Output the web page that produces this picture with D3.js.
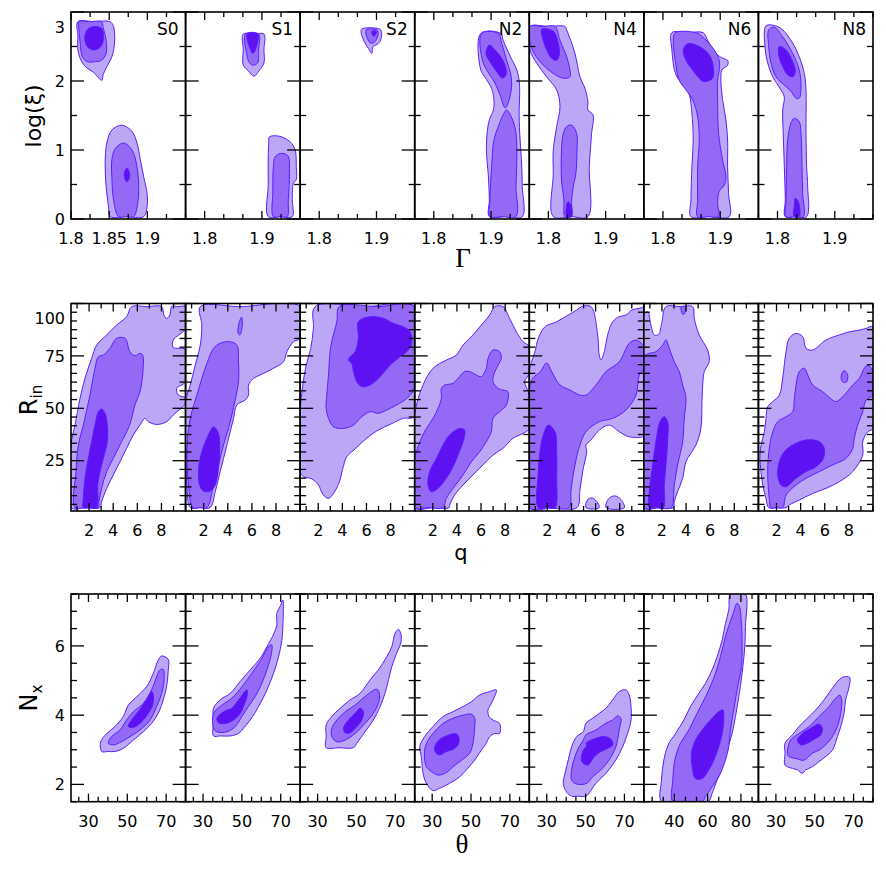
<!DOCTYPE html>
<html>
<head>
<meta charset="utf-8">
<script src="https://cdn.jsdelivr.net/npm/d3@7"></script>
<style>
  body { margin: 0; background: #fff; }
  text { font-family: "DejaVu Sans", sans-serif; fill: #000; }
</style>
</head>
<body>
<svg id="chart" width="886" height="886"></svg>
<script>
// ---- axis setup ----
const panelNames = ["S0", "S1", "S2", "N2", "N4", "N6", "N8"];

const gammaDomS0 = [1.8, 1.95];
const gammaDom = [1.7667, 1.9667];
const gammaLabelsS0 = [1.8, 1.85, 1.9];
const gammaLabels = [1.8, 1.9];
const xiDom = [0, 3];
const xiLabels = [0, 1, 2, 3];

const qDom = [0.5, 10];
const qLabels = [2, 4, 6, 8];
const rinDom = [1, 100];
const rinLabels = [25, 50, 75, 100];

const thetaDom = [21, 80];
const thetaDomN6 = [21.7, 90.5];
const thetaLabels = [30, 50, 70];
const thetaLabelsN6 = [40, 60, 80];
const nxDom = [1.5, 7.5];
const nxLabels = [2, 4, 6];

// ---- contours: [level, [[x, y], ...]]  level 0 = outer, 1 = middle, 2 = inner ----
// log(xi) vs Gamma
const xiS0 = [
  [0, [[1.809,2.86],[1.83,2.86],[1.851,2.86],[1.8557,2.79],[1.857,2.55],[1.8535,2.35],[1.847,2.21],[1.842,2.09],[1.8404,2.01],[1.829,2.13],[1.8206,2.19],[1.814,2.28],[1.809,2.45],[1.809,2.65]]],
  [0, [[1.8667,1.36],[1.8798,1.27],[1.8864,1.10],[1.8908,0.86],[1.8952,0.61],[1.8996,0.37],[1.8996,0.18],[1.8952,0.034],[1.872,0.034],[1.8513,0.034],[1.8491,0.18],[1.846,0.47],[1.8447,0.81],[1.8469,1.10],[1.8535,1.29]]],
  [1, [[1.8097,2.86],[1.825,2.86],[1.840,2.86],[1.842,2.78],[1.846,2.59],[1.846,2.40],[1.840,2.30],[1.832,2.28],[1.8215,2.28],[1.815,2.35],[1.812,2.55],[1.8105,2.75]]],
  [1, [[1.8689,1.10],[1.8798,1.0],[1.8864,0.76],[1.8886,0.47],[1.8873,0.23],[1.882,0.034],[1.872,0.034],[1.8623,0.034],[1.8557,0.28],[1.8535,0.60],[1.8535,0.86],[1.8579,1.02]]],
  [2, [[1.831,2.79],[1.840,2.76],[1.8425,2.62],[1.839,2.50],[1.831,2.45],[1.822,2.49],[1.818,2.62],[1.822,2.75]]],
  [2, [[1.8732,0.74],[1.8762,0.68],[1.8765,0.60],[1.8732,0.54],[1.870,0.60],[1.8702,0.68]]]
];
const xiS1 = [
  [0, [[1.8674,2.68],[1.886,2.68],[1.9035,2.68],[1.9035,2.45],[1.9035,2.26],[1.895,2.15],[1.886,2.07],[1.876,2.15],[1.8674,2.23],[1.8674,2.45]]],
  [0, [[1.913,1.19],[1.930,1.20],[1.949,1.12],[1.958,1.0],[1.960,0.75],[1.960,0.57],[1.955,0.52],[1.953,0.28],[1.953,0.034],[1.932,0.034],[1.911,0.034],[1.911,0.5],[1.911,0.9],[1.912,1.12]]],
  [1, [[1.8715,2.68],[1.8942,2.68],[1.8942,2.45],[1.8924,2.26],[1.8831,2.23],[1.8773,2.28],[1.8732,2.40]]],
  [1, [[1.932,0.95],[1.945,0.92],[1.948,0.66],[1.946,0.28],[1.944,0.034],[1.932,0.034],[1.920,0.034],[1.919,0.40],[1.920,0.76],[1.923,0.90]]],
  [2, [[1.8744,2.68],[1.8924,2.68],[1.8905,2.50],[1.8843,2.40],[1.878,2.50]]]
];
const xiS2 = [
  [0, [[1.874,2.75],[1.906,2.75],[1.909,2.69],[1.906,2.57],[1.899,2.52],[1.894,2.50],[1.892,2.40],[1.886,2.47],[1.880,2.55],[1.874,2.67]]],
  [1, [[1.882,2.74],[1.901,2.74],[1.903,2.69],[1.899,2.59],[1.894,2.55],[1.889,2.55],[1.884,2.62]]],
  [2, [[1.892,2.72],[1.900,2.72],[1.898,2.67],[1.896,2.65],[1.893,2.67]]]
];
const xiN2 = [
  [0, [[1.882,2.69],[1.917,2.69],[1.921,2.59],[1.934,2.35],[1.945,2.16],[1.949,2.01],[1.950,1.82],[1.949,1.58],[1.950,1.24],[1.953,0.86],[1.9545,0.47],[1.9545,0.034],[1.925,0.034],[1.897,0.034],[1.897,0.28],[1.895,0.66],[1.892,0.95],[1.893,1.24],[1.897,1.44],[1.904,1.58],[1.905,1.73],[1.901,1.89],[1.889,2.06],[1.882,2.16]]],
  [1, [[1.8836,2.69],[1.9126,2.69],[1.9185,2.55],[1.9272,2.30],[1.934,2.11],[1.936,1.97],[1.933,1.77],[1.9272,1.63],[1.9243,1.61],[1.9155,1.80],[1.9068,1.97],[1.8925,2.16],[1.8848,2.30]]],
  [1, [[1.9272,1.58],[1.9377,1.435],[1.9435,1.24],[1.945,0.86],[1.9435,0.47],[1.9435,0.034],[1.92,0.034],[1.898,0.034],[1.898,0.28],[1.901,0.76],[1.905,1.145],[1.9126,1.34],[1.921,1.51]]],
  [2, [[1.897,2.52],[1.9068,2.45],[1.9185,2.33],[1.926,2.18],[1.926,2.09],[1.920,2.04],[1.9098,2.135],[1.898,2.28],[1.891,2.40]]]
];
const xiN4 = [
  [0, [[1.768,2.79],[1.800,2.79],[1.829,2.79],[1.832,2.74],[1.8464,2.40],[1.8552,2.06],[1.864,1.89],[1.869,1.70],[1.869,1.58],[1.878,1.51],[1.8755,1.24],[1.8715,0.76],[1.869,0.034],[1.84,0.034],[1.8086,0.034],[1.8086,0.66],[1.8086,1.0],[1.8145,1.34],[1.8203,1.63],[1.8145,1.87],[1.797,2.06],[1.7796,2.26],[1.768,2.45]]],
  [1, [[1.768,2.79],[1.790,2.79],[1.8116,2.79],[1.8203,2.59],[1.832,2.35],[1.8377,2.16],[1.8377,2.06],[1.826,2.04],[1.8086,2.11],[1.7911,2.23],[1.7766,2.38],[1.768,2.55]]],
  [1, [[1.8407,1.36],[1.8494,1.24],[1.850,1.0],[1.848,0.66],[1.8435,0.47],[1.8407,0.275],[1.839,0.034],[1.829,0.034],[1.8272,0.275],[1.823,0.565],[1.823,1.0],[1.826,1.24],[1.832,1.34]]],
  [2, [[1.7883,2.75],[1.8086,2.72],[1.8173,2.55],[1.819,2.38],[1.8145,2.30],[1.8058,2.33],[1.797,2.45],[1.79,2.62]]],
  [2, [[1.834,0.25],[1.8395,0.20],[1.8405,0.034],[1.832,0.034]]]
];
const xiN6 = [
  [0, [[1.8157,2.70],[1.843,2.70],[1.8703,2.70],[1.878,2.59],[1.8925,2.40],[1.9042,2.33],[1.9129,2.30],[1.9129,2.23],[1.903,2.16],[1.9012,2.01],[1.9042,1.73],[1.91,1.435],[1.9129,1.145],[1.9129,0.76],[1.9146,0.37],[1.9157,0.034],[1.88,0.034],[1.8489,0.034],[1.8489,0.28],[1.8506,0.76],[1.8529,1.145],[1.8506,1.53],[1.846,1.80],[1.8372,1.92],[1.8227,2.09],[1.8157,2.45]]],
  [1, [[1.8215,2.70],[1.8576,2.70],[1.8693,2.64],[1.8896,2.45],[1.8983,2.30],[1.8983,2.16],[1.8955,2.01],[1.8955,1.73],[1.8972,1.24],[1.9042,0.855],[1.91,0.61],[1.907,0.49],[1.8983,0.40],[1.8955,0.23],[1.8972,0.034],[1.88,0.034],[1.8606,0.034],[1.8606,0.28],[1.8606,0.76],[1.8634,1.145],[1.8606,1.48],[1.8519,1.73],[1.8402,1.87],[1.8285,2.01],[1.8215,2.30],[1.818,2.59]]],
  [2, [[1.8431,2.54],[1.8634,2.50],[1.8808,2.38],[1.8878,2.21],[1.8866,2.04],[1.8721,1.99],[1.8634,2.04],[1.8519,2.16],[1.8402,2.30],[1.8355,2.45]]]
];
const xiN8 = [
  [0, [[1.78,2.80],[1.7962,2.80],[1.8091,2.74],[1.8265,2.55],[1.838,2.35],[1.8468,2.11],[1.8497,1.87],[1.8497,1.24],[1.8509,0.76],[1.8527,0.47],[1.8509,0.034],[1.832,0.034],[1.8136,0.034],[1.8136,0.28],[1.8119,0.76],[1.81,1.24],[1.8091,1.58],[1.8119,1.77],[1.8061,1.87],[1.7917,2.06],[1.783,2.26],[1.7787,2.45]]],
  [1, [[1.7847,2.74],[1.7944,2.78],[1.8091,2.64],[1.8265,2.40],[1.838,2.16],[1.841,1.92],[1.838,1.75],[1.8323,1.75],[1.8236,1.85],[1.8119,1.94],[1.7974,2.06],[1.7887,2.26],[1.7847,2.50]]],
  [1, [[1.8294,1.46],[1.838,1.41],[1.841,1.24],[1.8428,0.76],[1.8439,0.37],[1.845,0.034],[1.83,0.034],[1.8149,0.034],[1.8149,0.28],[1.816,0.76],[1.8178,1.145],[1.8236,1.39]]],
  [2, [[1.8032,2.50],[1.8149,2.45],[1.8265,2.28],[1.8311,2.135],[1.8265,2.06],[1.8178,2.09],[1.8091,2.21],[1.802,2.38]]],
  [2, [[1.831,0.30],[1.8365,0.25],[1.838,0.034],[1.829,0.034],[1.8295,0.20]]]
];

// R_in vs q
const rinS0 = [
  [0, [[0.5,2.6],[0.5,32.5],[0.83,42],[1.25,54.7],[1.66,64.3],[2.21,73.8],[2.63,80.2],[3.46,85],[4.28,89.7],[5.11,93.7],[5.53,98.5],[6.8,98.5],[8.01,98.5],[8.21,94.5],[8.43,92.9],[8.70,94.5],[8.84,98.5],[9.4,98.5],[10,98.5],[10,88.1],[8.98,82.6],[8.98,79],[10,78],[10,62.7],[9.26,59.5],[9.4,56.3],[10,55],[10,52.4],[8.98,46.8],[8.43,43.6],[7.6,42.3],[6.91,43.6],[6.63,45.2],[6.22,42],[5.67,37.3],[5.11,30.9],[4.56,24.5],[4.01,18.2],[3.46,11.8],[3.04,5.5],[2.9,2.6],[1.7,2.6]]],
  [1, [[0.83,2.6],[0.91,19.8],[1.11,32.5],[1.52,42],[2.07,56.3],[2.49,69.1],[2.77,74.6],[3.18,75.4],[3.73,78.6],[4.28,83.4],[4.98,83.4],[5.39,77],[5.8,75.1],[6.22,76.2],[6.44,75.4],[6.44,65.9],[6.22,57.9],[5.8,51.6],[5.53,45.2],[5.25,40.4],[4.7,34.1],[4.01,26.1],[3.46,19.8],[3.04,11.8],[2.82,5.5],[2.76,2.6],[1.7,2.6]]],
  [2, [[3.04,49.7],[3.32,47.6],[3.51,42],[3.51,34.1],[3.18,26.1],[2.9,19.8],[2.72,13.4],[2.62,2.6],[2.1,2.6],[1.52,2.6],[1.52,7],[1.66,16.6],[1.94,26.1],[2.21,34.1],[2.49,42],[2.77,48.4]]]
];
const rinS1 = [
  [0, [[0.9,2.6],[0.61,13.4],[0.5,29.3],[0.5,53.2],[0.89,61.1],[1.3,70.6],[1.72,80.2],[1.85,89.7],[1.72,98.5],[5,98.5],[10,98.5],[10,83.4],[9.45,81.8],[8.9,77],[8.62,72.2],[7.79,69.1],[6.69,65.9],[6.13,64.3],[5.72,61.1],[5.72,56.3],[5.44,53.9],[4.75,51.6],[4.48,45.2],[4.2,38.8],[3.93,32.5],[3.65,26.1],[3.37,19.8],[2.96,10.2],[2.54,2.6],[1.7,2.6]]],
  [1, [[1.1,2.6],[0.75,13.4],[0.61,29.3],[0.75,40.4],[1.02,48.4],[1.44,56.3],[1.85,64.3],[2.27,71.4],[2.82,78.6],[3.37,81],[4.06,81.8],[4.75,80.2],[4.89,72.2],[4.89,62.7],[4.61,53.9],[4.34,46.8],[4.06,40.4],[3.65,32.5],[3.23,23],[2.82,13.4],[2.27,2.6],[1.7,2.6]]],
  [1, [[4.85,86],[4.95,91],[5.15,93.5],[5.2,89],[5.0,85]]],
  [2, [[2.82,41.2],[3.23,38],[3.32,29.3],[3.23,21.4],[2.96,13.4],[2.54,10.5],[1.99,10.5],[1.66,13.4],[1.58,21.4],[1.85,29.3],[2.27,35.7],[2.6,39.6]]]
];
const rinS2 = [
  [0, [[1.74,98.5],[6,98.5],[9.95,98.5],[9.95,46],[9.06,45.2],[7.96,42.3],[6.85,39.2],[5.75,34.4],[5.06,30.6],[4.37,26.9],[4.04,21.4],[3.76,15],[3.32,9.9],[2.85,7],[2.38,9],[2.02,13.4],[1.47,16.3],[0.78,17.4],[0.5,19.8],[0.5,48.4],[0.72,61.1],[1.0,70.6],[1.38,78.6],[1.6,88.1]]],
  [1, [[3.76,98.5],[7,98.5],[9.95,98.5],[9.95,59.5],[9.34,54.7],[8.51,51.6],[7.68,49.2],[6.99,47.6],[6.3,48.4],[5.47,45.2],[4.92,42],[4.09,40.4],[3.26,41.2],[2.85,45.2],[2.65,50],[2.71,56.3],[2.85,65.9],[2.98,77],[3.12,81.8],[3.54,91.3]]],
  [2, [[5.33,91.3],[6.3,93.7],[7.41,92.9],[8.23,90.5],[9.06,88.9],[9.62,86.5],[9.75,81],[9.34,77],[8.79,74.6],[7.96,70.6],[7.13,65.1],[6.3,61.1],[5.61,60.3],[5.2,62.7],[4.92,67.5],[4.78,71.4],[4.51,73],[4.64,74.6],[5.06,77],[5.33,83.4]]]
];
const rinN2 = [
  [0, [[0.5,2.6],[0.5,46.8],[1.19,61.1],[2.02,69.1],[3.12,73],[3.95,75.4],[4.51,80.2],[5.33,85],[6.02,89.7],[6.72,94.5],[7.13,98.5],[7.82,98.5],[8.37,92.9],[8.93,86.5],[9.48,81.8],[10,79.4],[10,66.7],[9.62,62.7],[10,56.3],[10,40.4],[9.48,38],[8.65,35.7],[7.82,30.9],[6.99,27.7],[6.16,23],[5.33,18.2],[4.51,13.4],[3.81,8.6],[3.4,3.9],[3.35,2.6],[2,2.6]]],
  [1, [[0.5,2.6],[1.6,2.6],[2.85,2.6],[3.12,7],[3.68,11.8],[4.51,18.2],[5.2,24.5],[5.89,29.3],[6.44,34.1],[6.85,38.8],[6.99,45.2],[7.54,48.4],[8.1,51.6],[8.23,57.9],[7.82,58.7],[7.41,59.5],[6.99,62.7],[7.05,65.9],[7.41,70.6],[7.68,73.8],[7.54,77],[6.99,77.8],[6.58,73.8],[6.44,69.1],[6.02,65.1],[5.61,65.9],[5.06,67.5],[4.64,67.5],[4.09,64.3],[3.68,61.9],[2.99,61.1],[2.71,59.5],[2.71,54.7],[2.43,50],[2.02,45.2],[1.47,40.4],[1.05,35.7],[0.64,29.3],[0.5,26.1]]],
  [2, [[4.23,40.4],[4.64,39.6],[4.51,34.1],[4.09,27.7],[3.68,22.1],[3.12,16.6],[2.43,11.8],[1.88,10.2],[1.6,13.4],[1.74,19.8],[2.3,26.1],[2.85,32.5],[3.4,37.3]]]
];
const rinN4 = [
  [0, [[0.5,2.6],[0.5,67.5],[0.97,77],[1.25,83.4],[1.80,88.9],[2.77,91.3],[3.73,94.5],[4.43,96.9],[4.84,98.5],[5.62,98.5],[6.17,85],[6.3,75.4],[6.45,73],[6.72,77],[7.0,85],[7.42,91.3],[7.96,93.7],[8.52,94.5],[9.02,96.9],[9.76,97.9],[10,98.5],[10,37.3],[9.9,36.4],[8.79,36.4],[7.96,38.8],[7.13,42],[6.3,39.6],[5.62,34.9],[5.2,32.5],[5.26,29.3],[4.95,20.6],[4.7,11],[4.46,2.6],[2.5,2.6]]],
  [0, [[5.2,2.6],[5.35,6.5],[5.7,7.2],[6.1,5.5],[6.3,2.6]]],
  [0, [[6.86,2.6],[7.1,7],[7.6,8.2],[8.1,6.5],[8.38,2.6]]],
  [1, [[0.5,2.6],[0.5,58.7],[0.81,64.5],[1.39,67.3],[1.94,71.6],[2.38,67.3],[3.05,61.1],[3.88,58.7],[4.7,56.3],[5.2,56.3],[6.03,61.1],[6.86,67.5],[7.96,72.2],[8.79,81],[9.35,82.6],[9.76,81.2],[10,79.4],[10,69.1],[9.62,65.9],[9.35,56.3],[8.52,49.2],[7.42,45.2],[6.3,43.6],[5.2,38.8],[4.7,32.5],[4.29,23],[3.96,11],[3.79,2.6],[2,2.6]]],
  [2, [[2.08,42],[2.63,38.8],[2.77,29.3],[2.77,16.6],[2.63,2.6],[1.9,2.6],[1.25,2.6],[1.25,19.8],[1.39,29.3],[1.66,37.3]]]
];
const rinN6 = [
  [0, [[0.5,2.6],[0.5,94.5],[0.82,96.1],[1.09,89.7],[1.36,85],[1.73,85.3],[2.0,91.3],[2.33,98.5],[3.5,98.5],[4.55,98.5],[4.68,92.9],[5.09,85],[5.79,77.8],[5.92,72.2],[5.51,67.5],[5.38,61.1],[5.32,53.2],[5.23,40.4],[4.82,32.5],[3.99,24.5],[3.72,16.6],[3.3,10.2],[3.02,5.5],[2.94,2.6],[1.7,2.6]]],
  [1, [[3.6,98.5],[3.93,98.5],[3.85,95],[3.7,95]]],
  [1, [[0.5,2.6],[0.5,74.6],[0.95,76.2],[1.5,77],[2.06,80.2],[2.33,82.6],[2.61,78.6],[3.02,72.2],[3.44,67.5],[3.72,61.1],[3.99,55],[3.85,45.2],[3.72,34.1],[3.3,22.9],[3.02,13.4],[2.75,2.6],[1.6,2.6]]],
  [2, [[2.19,46],[2.47,43.6],[2.47,34.1],[2.33,23],[2.19,13.4],[2.11,2.6],[1.5,2.6],[0.95,2.6],[0.95,10.2],[1.23,23],[1.5,34.1],[1.84,43.6]]]
];
const rinN8 = [
  [0, [[1.35,2.6],[1.13,7],[0.86,13.4],[0.63,26.1],[0.72,32.5],[0.99,38.8],[1.13,45.2],[1.27,50.8],[1.69,53.2],[2.23,56.3],[2.51,64.3],[2.79,77],[3.06,83.4],[3.62,85.7],[4.17,84.2],[4.45,78.6],[5.0,77.8],[6.11,82.6],[7.21,85],[8.04,86.5],[8.87,87.3],[9.43,88.1],[10,88.9],[10,40.4],[9.56,38.8],[9.15,34.1],[9.15,27.7],[8.32,19.8],[7.21,15],[6.11,11.8],[5.0,9.4],[3.89,6.2],[3.06,3.9],[2.79,2.6],[2,2.6]]],
  [1, [[1.54,2.6],[1.4,7],[1.27,19.8],[1.4,30.9],[1.69,38.8],[2.1,43.6],[2.79,46],[3.34,48.4],[3.48,54.7],[3.62,61.1],[3.89,67.5],[4.31,69.1],[4.59,65.9],[5.0,61.1],[5.83,57.9],[6.66,53.9],[6.93,53.2],[7.49,55.5],[8.32,61.1],[8.87,64.3],[9.28,69.1],[9.56,70.6],[10,67.5],[10,56.3],[9.43,54],[9.15,48.4],[8.73,42],[8.45,35.7],[8.32,30.9],[7.76,26.1],[6.66,23],[5.55,19.8],[4.45,16.6],[3.62,13.4],[2.79,8.6],[2.51,2.6],[2,2.6]]],
  [1, [[7.35,65],[7.6,68],[7.9,66],[7.8,62.5],[7.5,62.5]]],
  [2, [[4.45,34.9],[5.55,34.1],[5.96,30.9],[5.88,26.1],[5.28,22.1],[4.45,19.8],[3.62,16.6],[2.79,12.6],[2.37,13.4],[2.1,18.2],[2.23,24.5],[2.65,29.3],[3.34,32.5]]]
];

// N_x vs theta
const nxS0 = [
  [0, [[36.8,2.95],[36.3,3.23],[39.4,3.47],[43.6,3.67],[47.9,3.96],[50.5,4.29],[54.8,4.53],[59.9,4.82],[63.4,5.21],[65.9,5.59],[67.7,5.71],[71.1,5.61],[71.1,5.31],[70.2,4.82],[68.5,4.44],[65.9,4.05],[62.5,3.76],[58.2,3.52],[53.1,3.28],[47.9,3.04],[43.6,2.95],[40,2.95]]],
  [1, [[40.2,3.19],[41.9,3.38],[46.2,3.57],[49.6,3.86],[53.1,4.1],[58.2,4.34],[62.5,4.73],[65.1,5.11],[66.8,5.31],[68.5,5.32],[68.9,5.02],[67.7,4.63],[65.1,4.25],[61.7,3.86],[56.5,3.57],[51.4,3.38],[46.2,3.21],[42.8,3.14]]],
  [2, [[50.5,3.67],[52.2,3.86],[55.6,4.1],[59.9,4.44],[62.5,4.68],[63.4,4.58],[63.0,4.29],[60.8,4.05],[56.5,3.76],[53.1,3.65]]]
];
const nxS1 = [
  [0, [[35.4,4.2],[38.8,4.44],[44.0,4.63],[49.1,4.97],[54.3,5.31],[59.4,5.64],[62.9,5.98],[66.6,6.37],[68.0,6.61],[68.0,6.94],[69.7,7.14],[71.1,7.33],[71.1,6.56],[70.6,6.17],[68.9,5.69],[66.3,5.21],[62.9,4.73],[58.6,4.25],[54.3,3.86],[50.8,3.62],[48.3,3.47],[44.0,3.4],[39,3.4],[35.4,3.4],[35.4,3.8]]],
  [1, [[35.4,4.05],[39.7,4.29],[44.8,4.49],[50.0,4.82],[55.1,5.21],[60.3,5.64],[63.7,5.98],[65.4,6.03],[64.9,5.69],[62.9,5.31],[60.3,4.92],[56.8,4.53],[53.4,4.25],[50.0,3.96],[46.6,3.67],[42.3,3.52],[37.1,3.52],[35.4,3.62]]],
  [2, [[37.1,3.91],[40.6,4.1],[44.8,4.2],[48.3,4.44],[52.6,4.73],[52.6,4.53],[50.8,4.25],[49.1,4.05],[45.7,3.86],[41.4,3.76],[38.0,3.78]]]
];
const nxS2 = [
  [0, [[34.4,3.72],[37.3,3.96],[41.6,4.2],[46.7,4.44],[51.9,4.63],[57.0,5.02],[61.3,5.31],[65.6,5.69],[68.2,5.98],[69.9,6.37],[71.6,6.48],[73.0,6.32],[72.8,6.08],[70.7,5.79],[68.2,5.4],[66.5,5.02],[64.7,4.63],[62.2,4.25],[58.7,3.86],[54.4,3.52],[50.2,3.19],[48.4,3.06],[41,3.06],[34.4,3.06],[34.4,3.4]]],
  [1, [[37.3,3.62],[39.9,3.86],[44.2,4.1],[49.3,4.29],[55.3,4.58],[60.5,4.75],[61.8,4.63],[61.3,4.34],[58.7,4.05],[54.4,3.76],[49.3,3.47],[44.2,3.28],[39.9,3.23],[37.3,3.38]]],
  [2, [[43.3,3.62],[45.9,3.86],[49.3,4.05],[51.9,4.2],[53.6,4.1],[52.7,3.86],[50.2,3.67],[46.7,3.49],[44.2,3.49]]]
];
const nxN2 = [
  [0, [[23.6,3.09],[24.4,2.8],[25.3,2.32],[27.0,2.03],[30.4,1.82],[33.9,1.89],[39.0,2.03],[44.2,2.22],[47.6,2.42],[51.9,2.7],[55.3,2.99],[57.9,3.19],[59.6,3.38],[62.2,3.47],[64.7,3.47],[64.7,3.76],[61.3,3.86],[59.3,3.96],[58.7,4.15],[60.5,4.34],[63.0,4.73],[59.6,4.68],[54.4,4.58],[50.2,4.39],[45.9,4.25],[40.7,4.1],[35.6,3.96],[30.4,3.67],[26.1,3.38]]],
  [1, [[26.1,2.99],[27.0,2.51],[29.6,2.37],[33.0,2.27],[37.3,2.34],[40.7,2.51],[44.2,2.66],[49.3,2.9],[51.0,3.19],[51.9,3.67],[51.9,3.91],[50.2,4.03],[45.9,4.0],[40.7,3.91],[35.6,3.76],[30.4,3.47],[27.9,3.28]]],
  [2, [[31.3,3.09],[33.9,3.3],[37.3,3.4],[42.4,3.46],[43.8,3.33],[43.3,3.14],[40.7,3.01],[37.3,2.95],[33.9,2.85],[31.8,2.92]]]
];
const nxN4 = [
  [0, [[38.5,2.03],[40.3,1.77],[42.8,1.66],[46.5,1.66],[50.2,1.66],[55.3,2.03],[60.5,2.32],[65.6,2.71],[69.1,3.09],[71.7,3.48],[73.4,3.86],[73.4,4.25],[72.5,4.58],[70.8,4.73],[67.3,4.68],[63.9,4.44],[60.5,4.2],[57.0,4.05],[53.6,3.91],[50.2,3.77],[48.8,3.52],[45.4,3.38],[42.8,3.09],[41.1,2.71],[39.4,2.32]]],
  [1, [[42.8,2.42],[42.8,2.13],[45.4,2.01],[50.6,2.03],[53.6,2.22],[57.9,2.42],[62.2,2.71],[65.6,3.09],[67.3,3.57],[68.2,3.91],[66.5,3.98],[63.9,3.86],[60.5,3.77],[55.3,3.57],[50.2,3.43],[48.8,3.28],[46.2,3.04],[44.0,2.71]]],
  [2, [[50.2,3.19],[55.3,3.33],[59.6,3.38],[63.1,3.3],[63.9,3.14],[61.4,3.04],[57.9,2.95],[54.5,2.8],[51.1,2.56],[48.0,2.66],[48.5,2.95],[50.6,3.14]]]
];
const nxN6 = [
  [0, [[32.3,1.5],[32.3,2.13],[33.7,2.7],[36.3,3.14],[40.7,3.47],[45.7,3.86],[49.7,4.25],[54.7,4.63],[58.7,4.92],[62.7,5.31],[65.7,5.69],[68.7,6.17],[70.7,6.65],[72.7,7.04],[73.7,7.5],[78,7.5],[82.7,7.5],[82.7,6.56],[82.3,5.98],[80.7,5.21],[78.7,4.53],[76.7,3.96],[74.7,3.47],[71.7,2.99],[68.7,2.51],[65.7,2.13],[62.7,1.74],[60.3,1.5],[46,1.5]]],
  [1, [[39.1,1.5],[39.1,2.13],[40.3,2.7],[43.7,3.19],[48.7,3.57],[52.7,3.96],[56.7,4.34],[60.7,4.73],[64.7,5.21],[67.7,5.69],[70.7,6.27],[74.7,6.85],[77.7,7.23],[79.1,7.14],[80.3,6.65],[80.7,5.98],[80.3,5.4],[77.7,4.73],[75.7,4.15],[73.7,3.57],[72.7,3.09],[70.7,2.7],[66.7,2.22],[62.7,1.93],[58.7,1.64],[56.7,1.5],[48,1.5]]],
  [2, [[50.7,2.51],[50.3,2.9],[52.7,3.28],[56.7,3.57],[61.7,3.86],[66.7,4.1],[69.1,4.15],[69.7,3.96],[69.1,3.57],[66.7,3.09],[63.7,2.7],[60.7,2.42],[56.7,2.17],[52.7,2.17]]]
];
const nxN8 = [
  [0, [[34.7,3.19],[38.5,3.43],[41.9,3.67],[46.2,3.91],[50.5,4.15],[54.8,4.44],[59.1,4.78],[62.5,5.02],[65.1,5.11],[68.0,5.09],[67.7,4.82],[65.9,4.44],[65.1,4.05],[63.4,3.67],[61.7,3.38],[59.1,2.99],[55.6,2.8],[52.2,2.66],[48.8,2.51],[45.4,2.42],[43.6,2.32],[41.1,2.42],[38.5,2.46],[34.7,2.56],[34.7,2.9]]],
  [1, [[35.9,2.9],[37.6,3.28],[41.9,3.47],[47.1,3.67],[52.2,3.96],[57.4,4.25],[60.8,4.49],[62.9,4.58],[63.9,4.44],[63.4,4.05],[61.7,3.67],[59.1,3.38],[55.6,3.14],[52.2,2.99],[48.8,2.9],[44.5,2.7],[40.2,2.75],[36.8,2.8]]],
  [2, [[41.1,3.28],[43.6,3.47],[47.9,3.62],[52.2,3.74],[53.9,3.62],[53.1,3.43],[49.6,3.3],[46.2,3.19],[42.8,3.14]]]
];

// ---- layout ----
const svg = d3.select("#chart");
const lefts = d3.range(8).map(i => 71 + i * 114.57);
const fills = ["#bca7f7", "#9469f6", "#5e12f2"];
const lineCol = "#5b1dff";

const rows = [
  { key: "xi", top: 12, bottom: 219, yDom: xiDom, yLabels: xiLabels, yAnchor: 0, yStep: 0.5,
    xDoms: [gammaDomS0, gammaDom, gammaDom, gammaDom, gammaDom, gammaDom, gammaDom],
    xLabels: [gammaLabelsS0, gammaLabels, gammaLabels, gammaLabels, gammaLabels, gammaLabels, gammaLabels],
    xSteps: [[1.8, 0.025], [1.8, 1/30], [1.8, 1/30], [1.8, 1/30], [1.8, 1/30], [1.8, 1/30], [1.8, 1/30]],
    sets: [xiS0, xiS1, xiS2, xiN2, xiN4, xiN6, xiN8] },
  { key: "rin", top: 303.5, bottom: 511, yDom: rinDom, yLabels: rinLabels, yAnchor: 25, yStep: 25/6,
    xDoms: d3.range(7).map(() => qDom),
    xLabels: d3.range(7).map(() => qLabels),
    xSteps: d3.range(7).map(() => [2, 1]),
    sets: [rinS0, rinS1, rinS2, rinN2, rinN4, rinN6, rinN8] },
  { key: "nx", top: 594, bottom: 801.7, yDom: nxDom, yLabels: nxLabels, yAnchor: 2, yStep: 0.5,
    xDoms: [thetaDom, thetaDom, thetaDom, thetaDom, thetaDom, thetaDomN6, thetaDom],
    xLabels: [thetaLabels, thetaLabels, thetaLabels, thetaLabels, thetaLabels, thetaLabelsN6, thetaLabels],
    xSteps: [[30, 5], [30, 5], [30, 5], [30, 5], [30, 5], [40, 20/3], [30, 5]],
    sets: [nxS0, nxS1, nxS2, nxN2, nxN4, nxN6, nxN8] }
];

function stepTicks(anchor, step, dom) {
  const out = [];
  const k0 = Math.ceil((dom[0] - anchor) / step - 1e-6);
  const k1 = Math.floor((dom[1] - anchor) / step + 1e-6);
  for (let k = k0; k <= k1; k++) out.push(anchor + k * step);
  return out;
}
const isMajor = (v, labels) => labels.some(l => Math.abs(l - v) < 1e-6);

rows.forEach(row => {
  row.sets.forEach((rings, i) => {
    const x0 = lefts[i], x1 = lefts[i + 1];
    const xs = d3.scaleLinear().domain(row.xDoms[i]).range([x0, x1]);
    const ys = d3.scaleLinear().domain(row.yDom).range([row.bottom, row.top]);

    const clipId = "clip-" + row.key + i;
    svg.append("clipPath").attr("id", clipId).append("rect")
      .attr("x", x0).attr("y", row.top).attr("width", x1 - x0).attr("height", row.bottom - row.top);

    const line = d3.line()
      .x(d => xs(d[0])).y(d => ys(d[1]))
      .curve(d3.curveCatmullRomClosed.alpha(0.5));

    const g = svg.append("g").attr("clip-path", `url(#${clipId})`);
    [0, 1, 2].forEach(lv => {
      rings.filter(r => r[0] === lv).forEach(r => {
        g.append("path")
          .attr("d", line(r[1]))
          .attr("fill", fills[lv])
          .attr("stroke", lineCol)
          .attr("stroke-width", 1);
      });
    });

    // ticks, all four sides, pointing in
    const ax = svg.append("g").attr("stroke", "#000").attr("stroke-width", 1.3);
    const yt = stepTicks(row.yAnchor, row.yStep, row.yDom);
    yt.forEach(v => {
      const len = isMajor(v, row.yLabels) ? 13 : 6;
      const y = ys(v);
      ax.append("line").attr("x1", x0).attr("x2", x0 + len).attr("y1", y).attr("y2", y);
      ax.append("line").attr("x1", x1).attr("x2", x1 - len).attr("y1", y).attr("y2", y);
    });
    const xt = stepTicks(row.xSteps[i][0], row.xSteps[i][1], row.xDoms[i]);
    xt.forEach(v => {
      const len = isMajor(v, row.xLabels[i]) ? 8 : 5;
      const x = xs(v);
      ax.append("line").attr("x1", x).attr("x2", x).attr("y1", row.bottom).attr("y2", row.bottom - len);
      ax.append("line").attr("x1", x).attr("x2", x).attr("y1", row.top).attr("y2", row.top + len);
    });

    svg.append("rect")
      .attr("x", x0).attr("y", row.top).attr("width", x1 - x0).attr("height", row.bottom - row.top)
      .attr("fill", "none").attr("stroke", "#000").attr("stroke-width", 1.6);

    // x tick labels
    svg.append("g").selectAll("text").data(row.xLabels[i]).join("text")
      .attr("x", d => xs(d)).attr("y", row.bottom + 25)
      .attr("text-anchor", "middle").attr("font-size", 16)
      .text(d => String(d));

    // y tick labels on first panel
    if (i === 0) {
      svg.append("g").selectAll("text").data(row.yLabels).join("text")
        .attr("x", 65).attr("y", d => Math.max(ys(d), row.top + 15))
        .attr("dy", "0.36em").attr("text-anchor", "end").attr("font-size", 16)
        .text(d => String(d));
    }

    // panel name on the top row
    if (row.key === "xi") {
      svg.append("text").attr("x", x1 - 7).attr("y", row.top + 23)
        .attr("text-anchor", "end").attr("font-size", 17).text(panelNames[i]);
    }
  });
});

// axis titles
svg.append("text").attr("x", 463).attr("y", 267).attr("text-anchor", "middle")
  .style("font-family", "'Liberation Serif', serif").attr("font-size", 27).text("Γ");
svg.append("text").attr("x", 461).attr("y", 560).attr("text-anchor", "middle")
  .attr("font-size", 21).text("q");
svg.append("text").attr("x", 462).attr("y", 853).attr("text-anchor", "middle")
  .style("font-family", "'Liberation Serif', serif").attr("font-size", 27).text("θ");

svg.append("text").attr("transform", "translate(41,116) rotate(-90)")
  .attr("text-anchor", "middle").attr("font-size", 22).text("log(ξ)");

const rinT = svg.append("text").attr("transform", "translate(37,400) rotate(-90)")
  .attr("text-anchor", "middle").attr("font-size", 24);
rinT.append("tspan").text("R");
rinT.append("tspan").attr("font-size", 15).attr("dy", 5).text("in");

const nxT = svg.append("text").attr("transform", "translate(37,698) rotate(-90)")
  .attr("text-anchor", "middle").attr("font-size", 24);
nxT.append("tspan").text("N");
nxT.append("tspan").attr("font-size", 15).attr("dy", 5).text("x");
</script>
</body>
</html>
